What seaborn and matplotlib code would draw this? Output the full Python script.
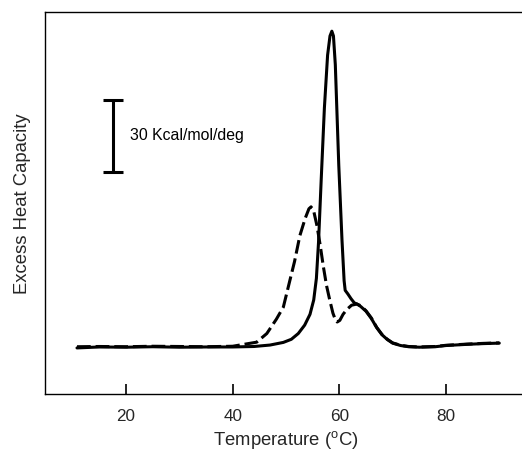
import numpy as np
import pandas as pd
import matplotlib
matplotlib.use("Agg")
import matplotlib.pyplot as plt
import seaborn as sns

# DSC traces: excess heat capacity (kcal/mol/deg above baseline) vs temperature (°C)
temp_solid = [10.8, 15, 20, 25, 30, 35, 40, 44, 47, 49.5, 51, 52.3, 53.5, 54.5,
              55.2, 55.7, 56.1, 56.6, 57.2, 57.8, 58.25, 58.6, 58.9, 59.25, 59.9,
              60.5, 60.9, 61.1, 61.6, 62.2, 62.8, 63.3, 64, 65, 66, 67, 68, 69,
              70, 71.5, 73, 75, 78, 80, 84, 87, 90]
cp_solid = [0.0, 0.4, 0.3, 0.5, 0.3, 0.4, 0.4, 0.6, 1.2, 2.3, 3.6, 6.0, 9.5, 14.0,
            20.0, 29.0, 44.0, 70.0, 100.0, 122.0, 130.0, 132.0, 130.0, 118.0, 76.0,
            45.0, 28.0, 24.0, 22.5, 20.5, 18.8, 18.3, 17.3, 15.3, 12.3, 8.5, 5.5, 3.5,
            2.0, 1.0, 0.5, 0.3, 0.5, 1.0, 1.5, 1.8, 2.0]

temp_dashed = [10.8, 15, 20, 25, 30, 35, 40, 44.5, 46.4, 48.2, 49.5, 50.8, 51.6,
               52.6, 53.6, 54.3, 54.7, 55.2, 55.8, 56.4, 57.0, 57.6, 58.2, 58.8,
               59.3, 59.6, 60.1, 60.7, 61.4, 62.3, 63.3, 64, 65, 66, 67, 68, 69,
               70, 71.5, 73, 75, 78, 80, 84, 87, 90]
cp_dashed = [0.5, 0.6, 0.5, 0.7, 0.6, 0.5, 0.7, 2.4, 6.0, 12.0, 17.0, 28.8, 36.0,
             46.8, 54.0, 58.0, 58.8, 57.0, 51.0, 43.0, 34.0, 26.0, 20.0, 14.5,
             11.5, 10.8, 11.5, 14.0, 16.0, 17.8, 18.3, 17.6, 15.5, 12.5, 8.6, 5.6, 3.6,
             2.1, 1.1, 0.6, 0.4, 0.6, 1.1, 1.6, 1.9, 2.1]

x_ticks = [20, 40, 60, 80]
scale_bar_value = 30
scale_bar_label = "30 Kcal/mol/deg"

df = pd.concat([
    pd.DataFrame({"T": temp_solid, "Cp": cp_solid, "trace": "solid"}),
    pd.DataFrame({"T": temp_dashed, "Cp": cp_dashed, "trace": "dashed"}),
], ignore_index=True)

sns.set_style("ticks", {"xtick.direction": "in"})
plt.rcParams["font.family"] = ["Liberation Sans", "DejaVu Sans"]
plt.rcParams["mathtext.default"] = "regular"
plt.rcParams["xtick.direction"] = "in"

fig = plt.figure(figsize=(5.22, 4.60), dpi=100)
ax = fig.add_axes([45 / 522, 1 - 395 / 460, 482 / 522, (395 - 13) / 460])

sns.lineplot(data=df, x="T", y="Cp", style="trace",
             dashes={"solid": "", "dashed": (4.5, 1.6)},
             color="black", linewidth=2.2, estimator=None, sort=False,
             legend=False, ax=ax)

ax.set_xlim(4.8, 95.2)
ax.set_ylim(-19.2, 140)
ax.set_xticks(x_ticks)
ax.set_xticklabels([str(t) for t in x_ticks], fontsize=12.3)
ax.set_yticks([])
ax.tick_params(axis="x", which="major", direction="in", length=7, width=1.2,
               color="black", bottom=True, top=False, pad=10)

for side in ["top", "left", "bottom"]:
    ax.spines[side].set_visible(True)
    ax.spines[side].set_color("black")
    ax.spines[side].set_linewidth(1.0)
ax.spines["right"].set_visible(False)

# vertical scale bar
bar_x, bar_bottom = 17.6, 73.3
ax.errorbar([bar_x], [bar_bottom + scale_bar_value / 2], yerr=[scale_bar_value / 2],
            color="black", elinewidth=2.2, capsize=7.5, capthick=2.2, fmt="none")
ax.text(20.7, bar_bottom + scale_bar_value / 2 + 0.5, scale_bar_label,
        fontsize=11.4, va="center", ha="left", color="black")

ax.set_xlabel("Temperature ($^{o}$C)", fontsize=13.3, labelpad=4)
ax.set_ylabel("Excess Heat Capacity", fontsize=13.3, labelpad=10)

fig.savefig("out.png", dpi=100)
